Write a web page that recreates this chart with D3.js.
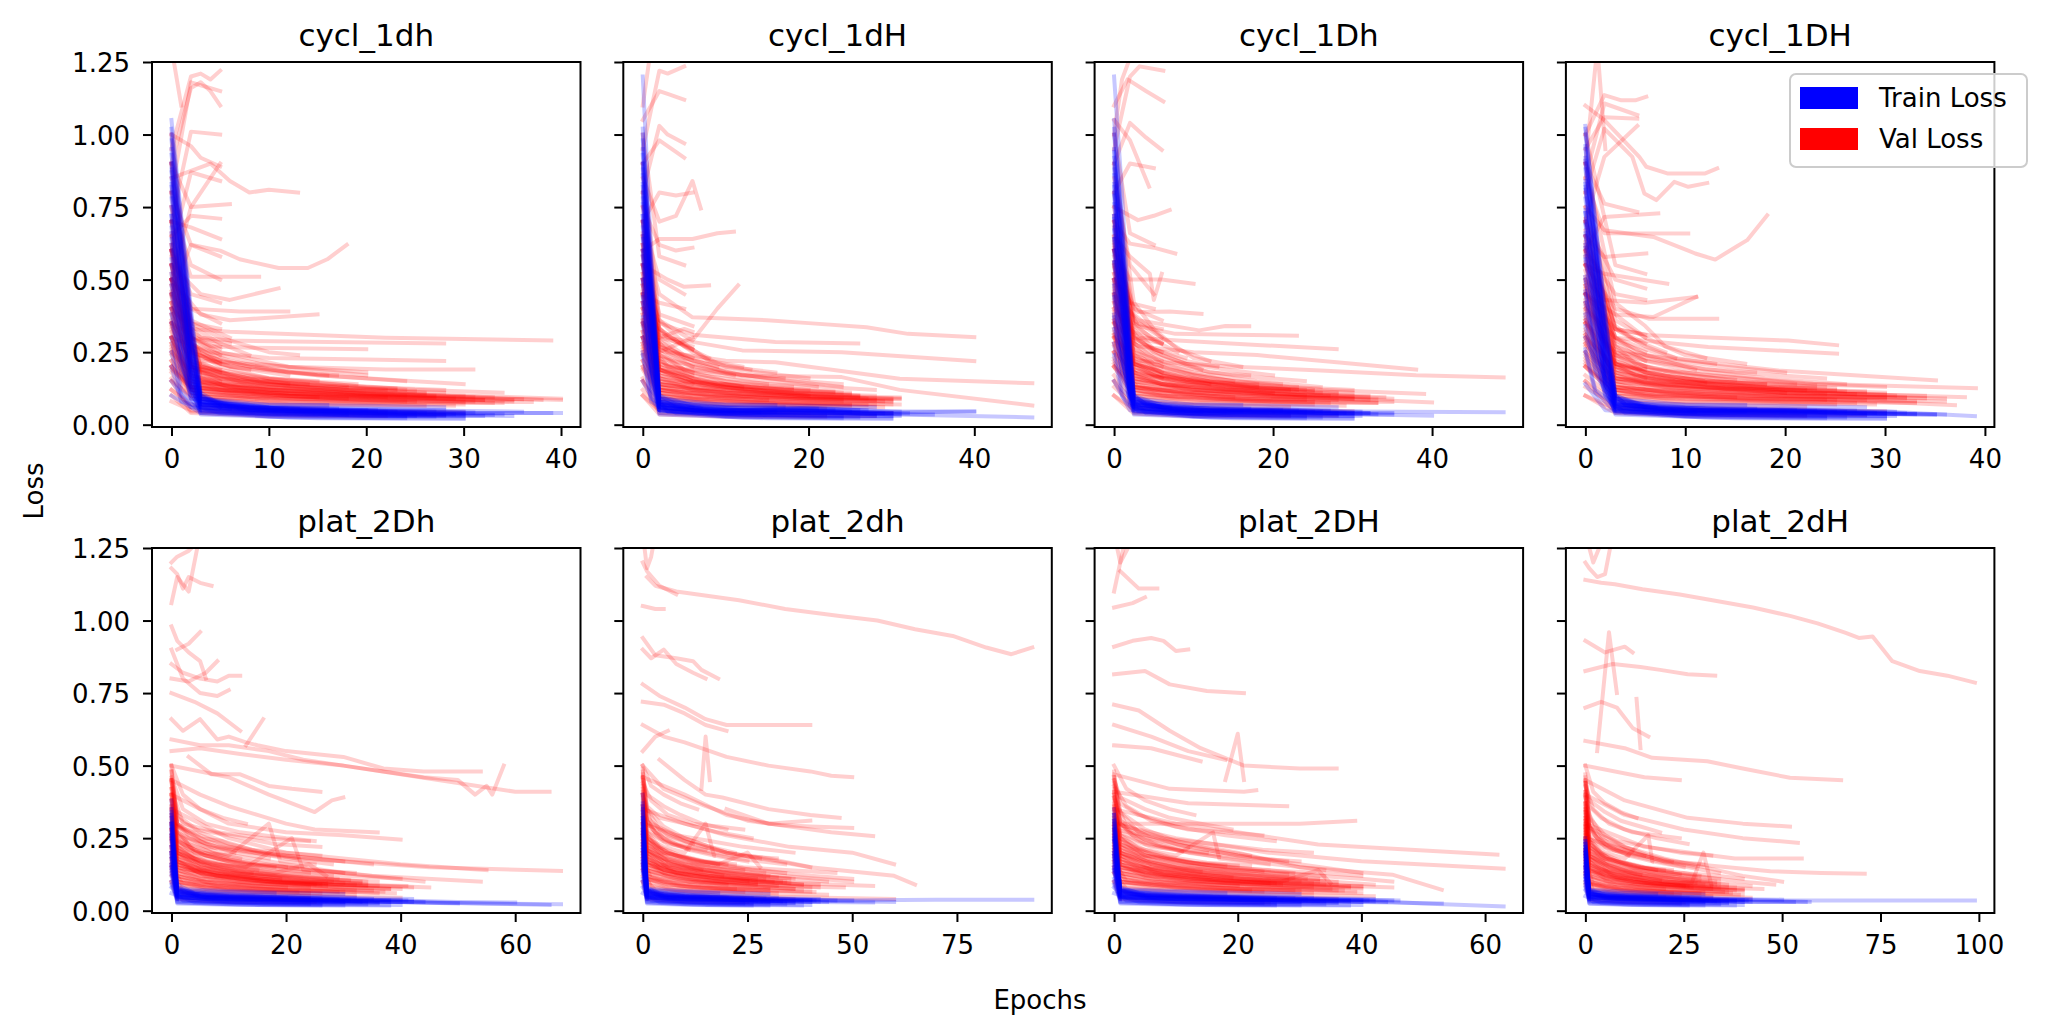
<!DOCTYPE html>
<html>
<head>
<meta charset="utf-8">
<script src="https://cdn.jsdelivr.net/npm/d3@7"></script>
<style>
body { margin: 0; background: #fff; }
text { font-family: "DejaVu Sans", sans-serif; }
</style>
</head>
<body>
<script>
var w = 2046;
var h = 1036;

var titles = ["cycl_1dh", "cycl_1dH", "cycl_1Dh", "cycl_1DH", "plat_2Dh", "plat_2dh", "plat_2DH", "plat_2dH"];
var maxEpochs = [40, 47, 49, 39, 68, 93, 63, 99];
var xTicks = [[0,10,20,30,40], [0,20,40], [0,20,40], [0,10,20,30,40],
              [0,20,40,60], [0,25,50,75], [0,20,40,60], [0,25,50,75,100]];
var yTicks = [0, 0.25, 0.5, 0.75, 1.0, 1.25];

// each run is a flat list of epoch, loss pairs
var val_c1dh = [
  [0,1.3,1,1.1],
  [0,0.95,2,1.2,3,1.21,4,1.19,5,1.22],
  [0,0.8,2,1.18,3,1.17,5,1.15],
  [0,0.9,2,1.16,3,1.18,4,1.15,5,1.1],
  [0,0.7,2,1.01,5,1.0],
  [0,1.0,2,0.96,3,0.92,5,0.89],
  [0,0.6,2,0.87,5,0.84],
  [0,0.85,4,0.9,6,0.84,8,0.8,10,0.81,13,0.8],
  [0,0.5,2,0.75,5,0.9],
  [0,0.9,2,0.75,6,0.76],
  [0,0.65,2,0.72,5,0.71],
  [0,0.8,2,0.62,5,0.6,7,0.57,11,0.54,14,0.54,16,0.57,18,0.62],
  [0,0.7,2,0.51,9,0.51],
  [0,0.55,3,0.45,6,0.43,11,0.47],
  [0,0.6,2,0.4,7,0.39,12,0.39],
  [0,0.5,3,0.38,6,0.36,15,0.38],
  [0,0.45,2,0.33,6,0.32,14,0.31,22,0.3,30,0.295,39,0.29],
  [0,0.4,3,0.3,6,0.29,16,0.285,28,0.28],
  [0,0.35,4,0.27,8,0.265,20,0.26],
  [0,0.3,4,0.25,10,0.23,20,0.225,28,0.22],
  [0,0.35,3,0.22,12,0.2,22,0.19,31,0.19],
  [0,0.75,2,0.55,5,0.5],
  [0,0.6,2,0.45,5,0.42],
  [0,0.5,2,0.4,5,0.35],
  [0,0.9,2,0.35,5,0.33],
  [0,0.55,2,0.3,6,0.28],
  [0,0.45,2,0.62,5,0.58],
  [0,0.7,2,0.68,5,0.64],
  [0,0.4,2,0.2,5,0.15,10,0.13,20,0.11,30,0.1,40,0.09],
  [0,0.3,2,0.18,5,0.14,15,0.12,25,0.1,38,0.085],
  [0,0.25,3,0.15,8,0.12,20,0.1,35,0.08],
  [0,0.6,2,0.22,5,0.18,12,0.15,25,0.12,34,0.11],
  [0,0.5,3,0.2,10,0.16,20,0.13,28,0.12],
  [0,0.35,2,0.16,6,0.12,14,0.1,24,0.09,32,0.085],
  [0,0.2,2,0.12,8,0.1,18,0.09,30,0.08],
  [0,0.8,2,0.25,6,0.2,15,0.17,25,0.15,30,0.14],
  [0,0.45,3,0.17,8,0.14,18,0.12,26,0.11],
  [0,0.3,2,0.14,10,0.11,22,0.095],
  [0,0.7,2,0.3,5,0.25,12,0.2,20,0.18],
  [0,0.15,2,0.1,10,0.08,20,0.075,30,0.07],
  [0,0.55,2,0.19,7,0.15,16,0.13,22,0.12],
  [0,0.25,2,0.13,6,0.11,12,0.1,18,0.09],
  [0,0.9,2,0.28,5,0.22,10,0.19,16,0.17],
  [0,0.38,2,0.21,5,0.17,9,0.15,14,0.14],
  [0,0.2,3,0.09,12,0.07,26,0.065],
  [0,0.65,3,0.16,10,0.12,20,0.1,27,0.095],
  [0,0.28,2,0.15,5,0.12,12,0.1,20,0.085,24,0.08],
  [0,1.0,2,0.35,5,0.3,10,0.25,13,0.24],
  [0,0.12,2,0.07,8,0.06,16,0.055],
  [0,0.5,2,0.24,6,0.2,12,0.17],
  [0,0.42,3,0.19,8,0.16,14,0.15,19,0.14],
  [0,0.33,2,0.13,10,0.1,30,0.09,36,0.088],
  [0,0.18,2,0.1,8,0.09,20,0.08,34,0.075],
  [0,0.75,2,0.27,5,0.21,8,0.19],
  [0,0.22,2,0.11,10,0.09,24,0.085,31,0.08],
  [0,0.08,2,0.05,10,0.045,22,0.04],
  [0,0.5,2,0.3,5,0.26],
  [0,0.4,2,0.26,5,0.22],
  [0,0.6,2,0.36,6,0.3],
  [0,0.28,2,0.14,5,0.12,10,0.11,16,0.1,22,0.095,29,0.09],
  [0,0.42,2,0.17,6,0.13,11,0.12,19,0.11,27,0.1,33,0.095],
  [0,0.52,2,0.2,5,0.16,9,0.14,15,0.13,23,0.12],
  [0,0.36,3,0.15,8,0.125,14,0.115,21,0.105,30,0.1],
  [0,0.24,2,0.12,7,0.1,13,0.09,20,0.085,28,0.08,37,0.078],
  [0,0.62,2,0.23,6,0.17,12,0.14,18,0.13],
  [0,0.46,3,0.18,7,0.15,13,0.13,22,0.11,26,0.105],
  [0,0.32,2,0.15,6,0.13,12,0.11,17,0.105,24,0.1],
  [0,0.2,2,0.11,8,0.095,16,0.085,25,0.08],
  [0,0.7,2,0.26,5,0.2,10,0.16,15,0.15],
  [0,0.38,2,0.16,6,0.14,14,0.12,23,0.1,31,0.095],
  [0,0.55,3,0.2,9,0.15,17,0.13,24,0.12],
  [0,0.3,2,0.13,9,0.11,18,0.1,28,0.09,35,0.085],
  [0,0.26,2,0.12,5,0.11,11,0.1,15,0.095],
  [0,0.44,2,0.19,5,0.16,8,0.15,12,0.14],
  [0,0.34,3,0.14,10,0.12,20,0.105,27,0.1],
  [0,0.16,2,0.09,9,0.075,19,0.07,29,0.065],
  [0,0.48,2,0.22,5,0.19],
  [0,0.58,2,0.25,5,0.21],
  [0,0.4,2,0.2,5,0.18],
  [0,0.66,2,0.32,5,0.27],
  [0,0.5,2,0.28,5,0.24],
  [0,0.3,2,0.17,5,0.15],
  [0,0.22,2,0.13,6,0.12,12,0.11,20,0.1,30,0.095,40,0.085],
  [0,0.12,2,0.06,10,0.05,20,0.045,30,0.042],
  [0,0.35,2,0.15,7,0.13,14,0.12,20,0.115,28,0.11],
  [0,0.45,2,0.2,6,0.16,10,0.14,18,0.12,25,0.115],
  [0,0.27,2,0.13,8,0.11,12,0.1,22,0.09,32,0.085],
  [0,0.6,2,0.21,7,0.16,13,0.14,19,0.13,23,0.125],
  [0,0.19,3,0.1,11,0.085,21,0.08,33,0.075],
  [0,0.55,2,0.3,5,0.24,9,0.21,14,0.19,20,0.17],
  [0,0.48,2,0.27,6,0.22,12,0.18,17,0.17],
  [0,0.42,3,0.24,8,0.2,15,0.17,24,0.15],
  [0,0.62,2,0.34,5,0.28,8,0.24],
  [0,0.1,2,0.04,10,0.03,22,0.03],
  [0,0.15,2,0.045,14,0.035,28,0.033]
];
var train_c1dh = [
  [0,1.05,1,0.72,2,0.4,3,0.1,5,0.07,10,0.05,20,0.045,30,0.04,39,0.04],
  [0,0.98,1,0.65,2,0.35,3,0.09,8,0.05,20,0.04,34,0.035],
  [0,0.9,1,0.6,2,0.3,3,0.08,8,0.06,20,0.05,30,0.045],
  [0,0.85,1,0.55,2,0.28,3,0.09,12,0.05,26,0.04],
  [0,0.78,1,0.5,2,0.22,3,0.07,6,0.06,15,0.05,22,0.045],
  [0,0.7,1,0.45,2,0.2,3,0.06,16,0.04,28,0.035],
  [0,0.62,1,0.35,2,0.15,3,0.06,10,0.04,18,0.035],
  [0,0.55,1,0.3,2,0.12,3,0.07,13,0.055],
  [0,0.48,1,0.25,2,0.1,3,0.07,10,0.055,24,0.05,36,0.045],
  [0,0.4,1,0.2,3,0.06,12,0.04,30,0.035],
  [0,0.3,1,0.12,3,0.05,20,0.03,32,0.03],
  [0,0.93,1,0.62,2,0.33,3,0.1,5,0.06],
  [0,0.66,1,0.4,2,0.18,3,0.08,5,0.06,14,0.05,20,0.05],
  [0,0.2,1,0.08,5,0.04,25,0.03],
  [0,0.15,2,0.06,10,0.035,24,0.03],
  [0,1.0,1,0.68,2,0.38,3,0.11,5,0.07],
  [0,0.52,1,0.28,3,0.07,6,0.055],
  [0,0.35,2,0.09,8,0.05,30,0.04,40,0.04],
  [0,0.1,3,0.04,15,0.03,27,0.028],
  [0,0.75,1,0.48,2,0.2,3,0.08,10,0.06,20,0.055,28,0.05],
  [0,0.88,1,0.58,2,0.25,3,0.09,10,0.05,18,0.048],
  [0,0.95,1,0.62,2,0.3,3,0.08,7,0.055,14,0.045,22,0.04,30,0.038],
  [0,0.83,1,0.52,2,0.24,3,0.07,9,0.05,17,0.045,25,0.04],
  [0,0.68,1,0.42,2,0.17,3,0.065,8,0.05,15,0.04,24,0.035,33,0.033],
  [0,0.57,1,0.33,2,0.13,3,0.06,10,0.045,20,0.04,29,0.036],
  [0,0.45,1,0.24,2,0.09,3,0.055,11,0.04,21,0.035,30,0.032],
  [0,1.02,1,0.7,2,0.36,3,0.1,6,0.065,12,0.055,18,0.05,27,0.045],
  [0,0.72,1,0.46,2,0.2,3,0.075,7,0.06,13,0.055,21,0.05],
  [0,0.38,1,0.18,3,0.05,9,0.04,19,0.035,35,0.03],
  [0,0.87,1,0.56,2,0.27,3,0.085,8,0.06,16,0.05,26,0.045,31,0.042],
  [0,0.6,1,0.36,2,0.14,3,0.07,12,0.05,23,0.045],
  [0,0.25,1,0.1,3,0.045,12,0.035,28,0.03],
  [0,0.8,1,0.5,2,0.22,3,0.09,6,0.07,10,0.06,17,0.055],
  [0,0.82,1,0.5,2,0.2,3,0.05,10,0.028,20,0.025,30,0.024],
  [0,0.64,1,0.38,2,0.12,3,0.04,12,0.025,24,0.022],
  [0,0.9,1,0.6,2,0.28,3,0.09,10,0.068,20,0.065,28,0.06],
  [0,0.5,1,0.26,3,0.035,15,0.022,30,0.02],
  [0,0.72,1,0.44,2,0.16,3,0.075,8,0.07,16,0.068]
];

var val_c1dH = [
  [0,1.1,1,1.3],
  [0,0.95,2,1.22,3,1.21,5,1.235],
  [0,1.05,2,1.15,3,1.14,5,1.12],
  [0,0.8,2,1.03,3,1.0,5,0.97],
  [0,0.9,2,0.98,4,0.94,5,0.92],
  [0,0.7,2,0.8,4,0.79,6,0.8],
  [0,0.85,2,0.7,4,0.72,6,0.84,7,0.745],
  [0,0.6,2,0.64,6,0.64,9,0.66,11,0.665],
  [0,0.75,2,0.62,4,0.6,6,0.61],
  [0,0.55,3,0.5,5,0.475,8,0.48],
  [0,0.5,2,0.36,6,0.29,9,0.4,11.5,0.48],
  [0,0.65,2,0.45,6,0.37,15,0.36,20,0.35,27,0.336,32,0.313,40,0.302],
  [0,0.45,2,0.35,6,0.31,16,0.285,26,0.28],
  [0,0.4,3,0.3,12,0.256,24,0.25,40,0.219],
  [0,0.35,3,0.25,10,0.22,16,0.215,31,0.158,47,0.143],
  [0,0.3,3,0.2,12,0.17,24,0.164,31,0.12,47,0.066],
  [0,0.45,2,0.42,5,0.4],
  [0,0.7,2,0.5,5,0.45],
  [0,0.55,2,0.3,5,0.33,6,0.32],
  [0,1.0,2,0.58,5,0.55],
  [0,0.5,2,0.25,6,0.3],
  [0,0.4,2,0.2,6,0.15,12,0.12,20,0.1,31,0.094],
  [0,0.35,2,0.16,6,0.13,15,0.11,26,0.1],
  [0,0.6,2,0.28,6,0.22,10,0.18,18,0.15,24,0.13],
  [0,0.3,2,0.13,8,0.1,16,0.09,30,0.08],
  [0,0.5,2,0.24,5,0.19,12,0.16,22,0.13,28,0.12],
  [0,0.25,2,0.11,6,0.09,20,0.075,30,0.07],
  [0,0.8,2,0.33,6,0.25,10,0.2,16,0.18],
  [0,0.45,2,0.19,6,0.15,14,0.13,20,0.12],
  [0,0.2,2,0.09,10,0.07,25,0.065],
  [0,0.7,2,0.3,5,0.24,9,0.21,13,0.19],
  [0,0.38,2,0.17,8,0.13,18,0.11,26,0.1],
  [0,0.55,2,0.22,7,0.17,15,0.14,21,0.13],
  [0,0.15,2,0.07,12,0.06,22,0.055],
  [0,0.9,2,0.36,5,0.28,8,0.22,12,0.2],
  [0,0.32,2,0.14,10,0.11,20,0.09,28,0.085],
  [0,0.42,2,0.21,6,0.17,12,0.14,18,0.13],
  [0,0.28,2,0.12,6,0.1,14,0.085,24,0.08],
  [0,0.65,2,0.26,6,0.2,11,0.17],
  [0,0.48,2,0.18,9,0.14,17,0.12,25,0.11],
  [0,0.22,2,0.1,8,0.08,18,0.07,27,0.068],
  [0,0.75,2,0.32,6,0.26],
  [0,0.58,2,0.27,5,0.23,9,0.2],
  [0,0.36,2,0.15,12,0.12,20,0.1],
  [0,0.1,2,0.05,12,0.045,20,0.04],
  [0,0.62,2,0.38,6,0.34],
  [0,0.52,2,0.3,6,0.27],
  [0,0.28,2,0.13,5,0.11,10,0.1,16,0.09,22,0.085,29,0.08],
  [0,0.42,2,0.16,6,0.12,11,0.11,19,0.1,27,0.09,31,0.088],
  [0,0.52,2,0.19,5,0.15,9,0.13,15,0.12,23,0.11],
  [0,0.36,2,0.14,8,0.115,14,0.105,21,0.095,30,0.09],
  [0,0.24,2,0.11,7,0.09,13,0.08,20,0.075,28,0.07],
  [0,0.62,2,0.22,6,0.16,12,0.13,18,0.12],
  [0,0.46,2,0.17,7,0.14,13,0.12,22,0.1,26,0.095],
  [0,0.32,2,0.14,6,0.12,12,0.1,17,0.095,24,0.09],
  [0,0.2,2,0.1,8,0.085,16,0.075,25,0.07],
  [0,0.7,2,0.25,5,0.19,10,0.15,15,0.14],
  [0,0.38,2,0.15,6,0.13,14,0.11,23,0.095,31,0.09],
  [0,0.55,2,0.19,9,0.14,17,0.12,24,0.11],
  [0,0.3,2,0.12,9,0.1,18,0.09,28,0.085],
  [0,0.26,2,0.11,5,0.1,11,0.09,15,0.085],
  [0,0.44,2,0.18,5,0.15,8,0.14,12,0.13],
  [0,0.34,2,0.13,10,0.11,20,0.095,27,0.09],
  [0,0.16,2,0.08,9,0.07,19,0.065,29,0.06],
  [0,0.48,2,0.21,6,0.18],
  [0,0.58,2,0.24,6,0.2],
  [0,0.4,2,0.19,6,0.17],
  [0,0.66,2,0.31,6,0.26],
  [0,0.5,2,0.27,6,0.23],
  [0,0.3,2,0.16,6,0.14],
  [0,0.22,2,0.12,6,0.11,12,0.1,20,0.09,30,0.085],
  [0,0.12,2,0.055,10,0.045,20,0.042,30,0.04],
  [0,0.35,2,0.14,7,0.12,14,0.11,20,0.105,28,0.1],
  [0,0.45,2,0.19,6,0.15,10,0.13,18,0.11,25,0.105],
  [0,0.27,2,0.12,8,0.1,12,0.095,22,0.085,30,0.08],
  [0,0.6,2,0.2,7,0.15,13,0.13,19,0.12,23,0.115],
  [0,0.19,2,0.09,11,0.08,21,0.075,31,0.07],
  [0,0.55,2,0.29,5,0.23,9,0.2,14,0.18,20,0.16],
  [0,0.48,2,0.26,6,0.21,12,0.17,17,0.16],
  [0,0.42,2,0.23,8,0.19,15,0.16,24,0.14],
  [0,0.62,2,0.33,5,0.27,8,0.23],
  [0,0.1,2,0.035,10,0.028,22,0.028],
  [0,0.15,2,0.04,14,0.032,28,0.03]
];
var train_c1dH = [
  [0,1.02,1,0.55,2,0.08,5,0.06,10,0.05,19,0.055,30,0.045,40,0.045],
  [0,0.95,1,0.5,2,0.07,8,0.05,20,0.05,32,0.04],
  [0,0.88,1,0.45,2,0.075,6,0.05,18,0.05,26,0.04],
  [0,0.8,1,0.4,2,0.06,10,0.04,20,0.045,28,0.035],
  [0,0.72,1,0.35,2,0.07,6,0.05,14,0.045],
  [0,0.65,1,0.3,2,0.06,12,0.04,22,0.04,47,0.025],
  [0,0.58,1,0.25,2,0.05,10,0.035,20,0.035,30,0.03],
  [0,0.5,1,0.2,2,0.06,8,0.045,16,0.045],
  [0,0.42,1,0.16,2,0.05,12,0.035,24,0.03],
  [0,0.35,1,0.12,3,0.045,15,0.035,22,0.035],
  [0,0.25,1,0.09,4,0.04,20,0.03,31,0.03],
  [0,0.9,1,0.48,2,0.09,4,0.06,7,0.055],
  [0,0.6,1,0.28,2,0.065,5,0.05,11,0.045],
  [0,0.15,2,0.05,10,0.03,26,0.025],
  [0,0.76,1,0.38,2,0.08,5,0.06,12,0.05,20,0.058,26,0.05],
  [0,0.98,1,0.52,2,0.1,4,0.07,6,0.06],
  [0,0.45,1,0.2,2,0.06,10,0.04,25,0.04,40,0.045],
  [0,0.3,2,0.06,10,0.04,18,0.045,30,0.04],
  [0,1.2,1,0.6,2,0.1],
  [0,0.93,1,0.5,2,0.08,7,0.055,14,0.045,22,0.045,30,0.04],
  [0,0.83,1,0.44,2,0.07,9,0.05,17,0.05,25,0.045],
  [0,0.68,1,0.34,2,0.065,8,0.05,15,0.045,24,0.04,31,0.035],
  [0,0.55,1,0.26,2,0.06,10,0.045,20,0.05,29,0.04],
  [0,0.44,1,0.19,2,0.055,11,0.04,21,0.04,30,0.035],
  [0,1.0,1,0.56,2,0.1,6,0.065,12,0.055,18,0.058,27,0.05],
  [0,0.7,1,0.36,2,0.075,7,0.06,13,0.055,21,0.055],
  [0,0.37,1,0.14,2,0.05,9,0.04,19,0.04,35,0.035],
  [0,0.86,1,0.46,2,0.085,8,0.06,16,0.055,26,0.05,31,0.045],
  [0,0.6,1,0.3,2,0.07,12,0.05,23,0.05],
  [0,0.24,1,0.08,3,0.045,12,0.035,28,0.03],
  [0,0.78,1,0.42,2,0.09,6,0.07,10,0.06,17,0.06],
  [0,0.82,1,0.4,2,0.05,10,0.028,20,0.025,30,0.024],
  [0,0.64,1,0.3,2,0.04,12,0.025,24,0.022],
  [0,0.9,1,0.46,2,0.09,10,0.068,20,0.065,28,0.06],
  [0,0.5,1,0.2,2,0.035,15,0.022,30,0.02],
  [0,0.72,1,0.36,2,0.075,8,0.07,16,0.068]
];

var val_c1Dh = [
  [0,1.0,1,1.19,2.5,1.3],
  [0,0.95,2,1.2,3.2,1.235,6.2,1.22],
  [0,1.1,1.7,1.19,4,1.15,6.2,1.114],
  [0,0.9,2,1.04,4,0.99,6,0.947],
  [0,1.05,2,0.98,4.4,0.82],
  [0,0.8,2,0.9,5,0.884],
  [0,0.75,3,0.705,5,0.72,7,0.74],
  [0,0.7,2,0.624,5,0.61,7.7,0.59],
  [0,0.6,2,0.5,6,0.5,10,0.486],
  [0,0.65,2,0.58,4.5,0.52,5,0.43,6,0.52],
  [0,0.5,3,0.388,7,0.39,11,0.382],
  [0,0.45,3,0.36,10.7,0.325,14,0.34,17,0.339],
  [0,0.5,3,0.34,7.7,0.313,15,0.31,23,0.307],
  [0,0.4,3,0.3,8,0.29,18,0.275,28,0.26],
  [0,0.35,3,0.27,10,0.25,18,0.24,28,0.215,38,0.19],
  [0,0.3,3,0.22,15,0.2,26,0.187,38,0.17,49,0.163],
  [0,0.25,3,0.17,15,0.14,26,0.12,39,0.106],
  [0,0.2,3,0.13,15,0.1,28,0.09,40,0.077],
  [0,0.85,2,0.55,5,0.45],
  [0,0.6,2,0.42,5,0.4],
  [0,1.0,2,0.66,5,0.62],
  [0,0.55,2.5,0.3,6,0.28],
  [0,0.7,2.5,0.35,6,0.33],
  [0,0.45,2.5,0.22,6,0.17,12,0.14,20,0.12,30,0.11],
  [0,0.35,2.5,0.17,6,0.14,15,0.12,24,0.1,32,0.095],
  [0,0.6,2.5,0.28,6,0.21,10,0.18,18,0.15,26,0.13],
  [0,0.3,2.5,0.14,8,0.11,16,0.09,28,0.085],
  [0,0.5,2.5,0.25,5,0.2,12,0.16,22,0.13,30,0.12],
  [0,0.25,2.5,0.12,6,0.1,20,0.08,33,0.075],
  [0,0.8,2.5,0.38,6,0.3,10,0.23,16,0.2],
  [0,0.42,2.5,0.2,6,0.16,14,0.13,22,0.12],
  [0,0.2,2.5,0.1,10,0.08,25,0.07],
  [0,0.7,2.5,0.33,5,0.26,9,0.22,13,0.2],
  [0,0.38,2.5,0.18,8,0.14,18,0.12,28,0.105],
  [0,0.55,2.5,0.24,7,0.19,15,0.15,21,0.14],
  [0,0.15,2.5,0.08,12,0.065,22,0.06],
  [0,0.9,2.5,0.42,5,0.33,8,0.26,12,0.22],
  [0,0.32,2.5,0.15,10,0.12,20,0.1,30,0.09],
  [0,0.4,2.5,0.21,6,0.18,12,0.15,18,0.14],
  [0,0.28,2.5,0.13,6,0.11,14,0.09,24,0.085],
  [0,0.65,2.5,0.3,6,0.24,11,0.19],
  [0,0.48,2.5,0.19,9,0.15,17,0.13,25,0.115],
  [0,0.22,2.5,0.11,8,0.09,18,0.08,27,0.075],
  [0,0.75,2.5,0.36,6,0.3],
  [0,0.58,2.5,0.3,5,0.26,9,0.23],
  [0,0.36,2.5,0.16,12,0.13,20,0.11],
  [0,0.1,2.5,0.055,12,0.05,20,0.045],
  [0,0.62,2.5,0.4,6,0.36],
  [0,0.52,2.5,0.32,6,0.28],
  [0,0.3,2.5,0.14,5,0.12,10,0.11,16,0.1,22,0.095,30,0.09],
  [0,0.44,2.5,0.18,6,0.14,11,0.12,19,0.11,27,0.1,34,0.095],
  [0,0.54,2.5,0.21,5,0.17,9,0.15,15,0.13,23,0.12],
  [0,0.37,2.5,0.16,8,0.13,14,0.115,21,0.105,30,0.1],
  [0,0.25,2.5,0.12,7,0.1,13,0.09,20,0.085,28,0.08,35,0.078],
  [0,0.64,2.5,0.24,6,0.18,12,0.15,18,0.13],
  [0,0.47,2.5,0.19,7,0.15,13,0.13,22,0.115,26,0.11],
  [0,0.33,2.5,0.15,6,0.13,12,0.115,17,0.11,24,0.1],
  [0,0.21,2.5,0.11,8,0.095,16,0.085,25,0.08],
  [0,0.72,2.5,0.27,5,0.21,10,0.17,15,0.15],
  [0,0.39,2.5,0.17,6,0.14,14,0.12,23,0.105,32,0.1],
  [0,0.56,2.5,0.21,9,0.16,17,0.13,24,0.12],
  [0,0.31,2.5,0.13,9,0.11,18,0.1,28,0.09,33,0.088],
  [0,0.27,2.5,0.12,5,0.11,11,0.1,15,0.095],
  [0,0.45,2.5,0.2,5,0.17,8,0.15,12,0.14],
  [0,0.35,2.5,0.15,10,0.12,20,0.105,27,0.1],
  [0,0.17,2.5,0.09,9,0.075,19,0.07,29,0.065],
  [0,0.5,2.5,0.23,6,0.2],
  [0,0.6,2.5,0.26,6,0.22],
  [0,0.42,2.5,0.21,6,0.18],
  [0,0.68,2.5,0.34,6,0.28],
  [0,0.52,2.5,0.29,6,0.25],
  [0,0.31,2.5,0.18,6,0.16],
  [0,0.23,2.5,0.13,6,0.12,12,0.11,20,0.1,30,0.095,35,0.09],
  [0,0.13,2.5,0.065,10,0.055,20,0.05,30,0.046],
  [0,0.36,2.5,0.16,7,0.135,14,0.12,20,0.115,28,0.11],
  [0,0.46,2.5,0.21,6,0.17,10,0.15,18,0.13,25,0.12],
  [0,0.28,2.5,0.13,8,0.11,12,0.1,22,0.09,32,0.085],
  [0,0.61,2.5,0.22,7,0.17,13,0.145,19,0.135,23,0.13],
  [0,0.2,2.5,0.1,11,0.085,21,0.08,33,0.075],
  [0,0.56,2.5,0.31,5,0.25,9,0.21,14,0.19,20,0.17],
  [0,0.49,2.5,0.28,6,0.23,12,0.18,17,0.17],
  [0,0.43,2.5,0.25,8,0.2,15,0.17,24,0.15],
  [0,0.63,2.5,0.35,5,0.29,8,0.25],
  [0,0.1,2.5,0.038,10,0.03,22,0.03],
  [0,0.15,2.5,0.045,14,0.035,28,0.032]
];
var train_c1Dh = [
  [0,1.2,1,0.8,2,0.3,2.5,0.09,6,0.06,12,0.05,20,0.05,30,0.045,49,0.043],
  [0,1.05,1,0.7,2,0.25,2.5,0.08,8,0.05,20,0.045,32,0.04],
  [0,0.95,1,0.62,2,0.22,2.5,0.085,6,0.06,18,0.05,26,0.045],
  [0,0.88,1,0.55,2,0.18,2.5,0.07,10,0.045,20,0.045,28,0.04],
  [0,0.8,1,0.5,2,0.15,2.5,0.075,6,0.055,14,0.05],
  [0,0.72,1,0.44,2,0.12,2.5,0.06,12,0.04,22,0.04,40,0.031],
  [0,0.64,1,0.38,2,0.1,2.5,0.055,10,0.035,20,0.035,30,0.03],
  [0,0.56,1,0.32,2,0.09,2.5,0.06,8,0.045,16,0.045],
  [0,0.48,1,0.26,2,0.07,3,0.05,12,0.035,24,0.03],
  [0,0.38,1,0.18,3,0.045,15,0.035,22,0.035],
  [0,0.28,1,0.12,4,0.04,20,0.03,31,0.03],
  [0,0.92,1,0.6,2,0.24,2.5,0.1,4,0.07,7,0.06],
  [0,0.6,1,0.35,2,0.11,2.5,0.065,5,0.05,11,0.045],
  [0,0.15,2,0.05,10,0.03,26,0.025],
  [0,0.76,1,0.47,2,0.14,2.5,0.08,5,0.06,12,0.05,20,0.055,32,0.04],
  [0,1.0,1,0.66,2,0.26,2.5,0.1,4,0.07,6,0.06],
  [0,0.44,1,0.22,2.5,0.06,10,0.04,25,0.04,35,0.04],
  [0,0.33,2.5,0.06,10,0.04,18,0.045,30,0.04],
  [0,0.68,1,0.4,2,0.12,2.5,0.07,10,0.05,24,0.045],
  [0,0.94,1,0.61,2,0.25,2.5,0.08,7,0.055,14,0.045,22,0.042,30,0.04],
  [0,0.83,1,0.52,2,0.19,2.5,0.07,9,0.05,17,0.048,25,0.045],
  [0,0.67,1,0.41,2,0.13,2.5,0.065,8,0.05,15,0.045,24,0.04,33,0.036],
  [0,0.56,1,0.33,2,0.1,2.5,0.06,10,0.045,20,0.045,29,0.04],
  [0,0.45,1,0.24,2,0.075,2.5,0.055,11,0.04,21,0.038,30,0.035],
  [0,1.02,1,0.68,2,0.28,2.5,0.1,6,0.065,12,0.055,18,0.052,27,0.048],
  [0,0.71,1,0.44,2,0.15,2.5,0.075,7,0.06,13,0.055,21,0.05],
  [0,0.37,1,0.17,2.5,0.05,9,0.04,19,0.038,35,0.035],
  [0,0.86,1,0.55,2,0.2,2.5,0.085,8,0.06,16,0.052,26,0.048,31,0.045],
  [0,0.6,1,0.36,2,0.11,2.5,0.07,12,0.05,23,0.048],
  [0,0.24,1,0.1,2.5,0.045,12,0.035,28,0.032],
  [0,0.79,1,0.5,2,0.17,2.5,0.09,6,0.07,10,0.06,17,0.055],
  [0,0.82,1,0.5,2,0.16,2.5,0.05,10,0.028,20,0.025,30,0.024],
  [0,0.64,1,0.38,2,0.1,2.5,0.04,12,0.025,24,0.022],
  [0,0.9,1,0.58,2,0.22,2.5,0.09,10,0.068,20,0.065,28,0.06],
  [0,0.5,1,0.26,2.5,0.035,15,0.022,30,0.02],
  [0,0.72,1,0.44,2,0.14,2.5,0.075,8,0.07,16,0.068]
];

var val_c1DH = [
  [0,0.9,1.2,1.3,2,0.95],
  [0,1.0,1.9,1.136,3.6,1.118,5,1.118,6.1,1.13],
  [0,0.85,1.9,1.107,5.2,1.067],
  [0,0.95,1.9,1.06,5.2,1.055],
  [0,1.1,1.9,1.05,5.4,0.923,6.1,0.889,8.2,0.866,12,0.866,13.2,0.883],
  [0,0.8,1.9,1.02,4.7,0.923,5.9,0.797,7.1,0.774,8.9,0.837,10.3,0.82,12.2,0.833],
  [0,0.7,1.9,0.923,5.2,1.03],
  [0,0.9,1.9,0.762,5.2,0.733],
  [0,0.6,1.9,0.716,7.3,0.728],
  [0,0.75,1.9,0.67,6.8,0.647,10.3,0.6,11,0.59,13,0.569,15.1,0.613,16.2,0.636,18.2,0.722],
  [0,0.85,1.9,0.66,10.3,0.659],
  [0,0.65,1.9,0.578,6.1,0.59],
  [0,0.55,1.9,0.52,8.2,0.486],
  [0,0.5,1.9,0.43,6,0.42,11.1,0.44],
  [0,0.45,3,0.38,6.8,0.371,11.1,0.44],
  [0,0.55,3,0.4,6.4,0.365,13.2,0.365],
  [0,0.45,3,0.33,6.4,0.308,20.3,0.29,25.2,0.274],
  [0,0.4,3,0.3,12.3,0.268,25.2,0.245],
  [0,0.35,3,0.25,19.3,0.187,35.1,0.153],
  [0,0.3,3,0.2,22.8,0.141,39.1,0.126],
  [0,0.25,3,0.16,26,0.107,38,0.095],
  [0,0.2,3,0.12,26,0.084,37,0.067],
  [0,0.7,3,0.5,6,0.47],
  [0,1.0,3,0.55,6,0.52],
  [0,0.6,3,0.45,6,0.43],
  [0,0.65,3,0.33,6,0.31],
  [0,0.45,3,0.22,6,0.18,12,0.15,20,0.12,30,0.11],
  [0,0.35,3,0.17,6,0.14,15,0.12,24,0.1,32,0.095],
  [0,0.6,3,0.28,6,0.22,10,0.19,18,0.16,26,0.14],
  [0,0.3,3,0.14,8,0.11,16,0.09,28,0.085],
  [0,0.5,3,0.25,6,0.2,12,0.17,22,0.14,30,0.13],
  [0,0.25,3,0.12,6,0.1,20,0.08,33,0.075],
  [0,0.8,3,0.38,6,0.3,10,0.24,16,0.21],
  [0,0.42,3,0.2,6,0.16,14,0.13,22,0.12],
  [0,0.2,3,0.1,10,0.08,25,0.07],
  [0,0.7,3,0.33,6,0.27,9,0.23,13,0.21],
  [0,0.38,3,0.18,8,0.14,18,0.12,28,0.11],
  [0,0.55,3,0.24,7,0.19,15,0.15,21,0.14],
  [0,0.15,3,0.08,12,0.065,22,0.06],
  [0,0.9,3,0.42,6,0.34,8,0.27,12,0.23],
  [0,0.32,3,0.15,10,0.12,20,0.1,30,0.09],
  [0,0.4,3,0.21,6,0.18,12,0.15,18,0.14],
  [0,0.28,3,0.13,6,0.11,14,0.09,24,0.085],
  [0,0.65,3,0.3,6,0.24,11,0.19],
  [0,0.48,3,0.19,9,0.15,17,0.13,25,0.12],
  [0,0.22,3,0.11,8,0.09,18,0.08,27,0.075],
  [0,0.75,3,0.36,6,0.3],
  [0,0.58,3,0.3,6,0.26,9,0.23],
  [0,0.36,3,0.16,12,0.13,20,0.11],
  [0,0.1,3,0.055,12,0.05,20,0.045],
  [0,0.29,3,0.14,5,0.125,10,0.115,16,0.105,22,0.1,30,0.095],
  [0,0.43,3,0.18,6,0.145,11,0.13,19,0.115,27,0.105,34,0.1],
  [0,0.53,3,0.21,5,0.17,9,0.15,15,0.135,23,0.125],
  [0,0.37,3,0.16,8,0.13,14,0.12,21,0.11,30,0.105],
  [0,0.24,3,0.12,7,0.1,13,0.095,20,0.09,28,0.085,36,0.08],
  [0,0.63,3,0.24,6,0.18,12,0.15,18,0.14],
  [0,0.47,3,0.19,7,0.155,13,0.135,22,0.12,26,0.115],
  [0,0.33,3,0.15,6,0.13,12,0.12,17,0.11,24,0.105],
  [0,0.21,3,0.11,8,0.1,16,0.09,25,0.085],
  [0,0.71,3,0.27,5,0.21,10,0.17,15,0.155],
  [0,0.39,3,0.17,6,0.145,14,0.125,23,0.11,31,0.1],
  [0,0.56,3,0.21,9,0.16,17,0.14,24,0.13],
  [0,0.31,3,0.13,9,0.11,18,0.1,28,0.095,34,0.09],
  [0,0.27,3,0.12,5,0.11,11,0.1,15,0.095],
  [0,0.45,3,0.2,5,0.17,8,0.155,12,0.145],
  [0,0.35,3,0.15,10,0.125,20,0.11,27,0.105],
  [0,0.17,3,0.09,9,0.08,19,0.075,29,0.07],
  [0,0.49,3,0.23,6,0.2],
  [0,0.59,3,0.26,6,0.22],
  [0,0.41,3,0.21,6,0.19],
  [0,0.67,3,0.33,6,0.28],
  [0,0.51,3,0.29,6,0.25],
  [0,0.31,3,0.18,6,0.16],
  [0,0.23,3,0.13,6,0.12,12,0.11,20,0.1,30,0.095,36,0.09],
  [0,0.13,3,0.065,10,0.055,20,0.05,30,0.046],
  [0,0.36,3,0.16,7,0.14,14,0.125,20,0.12,28,0.115],
  [0,0.46,3,0.21,6,0.17,10,0.15,18,0.13,25,0.125],
  [0,0.28,3,0.13,8,0.115,12,0.105,22,0.095,32,0.09],
  [0,0.61,3,0.22,7,0.17,13,0.15,19,0.14,23,0.135],
  [0,0.2,3,0.1,11,0.09,21,0.085,33,0.08],
  [0,0.55,3,0.3,5,0.25,9,0.22,14,0.2,20,0.18],
  [0,0.48,3,0.27,6,0.23,12,0.19,17,0.18],
  [0,0.42,3,0.24,8,0.21,15,0.18,24,0.16],
  [0,0.62,3,0.34,5,0.29,8,0.25],
  [0,0.1,3,0.04,10,0.032,22,0.03],
  [0,0.15,3,0.046,14,0.036,28,0.033]
];
var train_c1DH = [
  [0,1.02,1,0.7,2,0.38,3,0.1,6,0.06,12,0.05,20,0.05,30,0.045,39,0.029],
  [0,0.96,1,0.64,2,0.34,3,0.09,8,0.05,20,0.045,33,0.038],
  [0,0.9,1,0.6,2,0.3,3,0.085,6,0.06,18,0.05,26,0.045],
  [0,0.82,1,0.54,2,0.26,3,0.07,10,0.045,20,0.045,28,0.04],
  [0,0.74,1,0.48,2,0.22,3,0.075,6,0.055,14,0.05],
  [0,0.66,1,0.42,2,0.18,3,0.06,12,0.04,22,0.04,35,0.035],
  [0,0.58,1,0.36,2,0.14,3,0.055,10,0.035,20,0.035,30,0.03],
  [0,0.5,1,0.3,2,0.12,3,0.06,8,0.045,16,0.045],
  [0,0.42,1,0.24,2,0.1,3,0.05,12,0.035,24,0.03],
  [0,0.34,1,0.18,3,0.045,15,0.035,22,0.035],
  [0,0.26,1,0.12,4,0.04,20,0.03,31,0.03],
  [0,0.92,1,0.62,2,0.32,3,0.1,4,0.07,7,0.06],
  [0,0.62,1,0.38,2,0.16,3,0.065,5,0.05,11,0.045],
  [0,0.14,2,0.05,10,0.03,26,0.025],
  [0,0.78,1,0.5,2,0.24,3,0.08,5,0.06,12,0.05,20,0.055,32,0.04],
  [0,1.0,1,0.67,2,0.36,3,0.1,4,0.07,6,0.06],
  [0,0.46,1,0.26,3,0.06,10,0.04,25,0.04,36,0.035],
  [0,0.3,3,0.06,10,0.04,18,0.045,30,0.04],
  [0,0.7,1,0.45,2,0.2,3,0.07,10,0.05,24,0.045],
  [0,0.95,1,0.63,2,0.31,3,0.08,7,0.055,14,0.048,22,0.045,30,0.042],
  [0,0.84,1,0.55,2,0.25,3,0.07,9,0.05,17,0.05,25,0.045],
  [0,0.69,1,0.44,2,0.19,3,0.065,8,0.05,15,0.045,24,0.04,33,0.036],
  [0,0.57,1,0.34,2,0.14,3,0.06,10,0.045,20,0.045,29,0.04],
  [0,0.45,1,0.25,2,0.1,3,0.055,11,0.04,21,0.038,30,0.035],
  [0,1.03,1,0.7,2,0.37,3,0.1,6,0.065,12,0.055,18,0.052,27,0.048],
  [0,0.73,1,0.47,2,0.21,3,0.075,7,0.06,13,0.055,21,0.05],
  [0,0.38,1,0.19,3,0.05,9,0.04,19,0.038,35,0.035],
  [0,0.88,1,0.58,2,0.28,3,0.085,8,0.06,16,0.052,26,0.048,31,0.045],
  [0,0.61,1,0.37,2,0.15,3,0.07,12,0.05,23,0.048],
  [0,0.25,1,0.11,3,0.045,12,0.035,28,0.032],
  [0,0.81,1,0.52,2,0.23,3,0.09,6,0.07,10,0.06,17,0.055],
  [0,0.83,1,0.52,2,0.21,3,0.05,10,0.028,20,0.025,30,0.024],
  [0,0.65,1,0.39,2,0.13,3,0.04,12,0.025,24,0.022],
  [0,0.91,1,0.61,2,0.29,3,0.09,10,0.068,20,0.065,28,0.06],
  [0,0.51,1,0.27,3,0.035,15,0.022,30,0.02],
  [0,0.73,1,0.45,2,0.17,3,0.075,8,0.07,16,0.068]
];

var val_p2Dh = [
  [0,1.2,1,1.22,3,1.24,4,1.26],
  [0,1.18,1,1.16,2,1.11,3,1.15,5,1.13,7,1.12],
  [0,1.06,1,1.15,3,1.1,5,1.3],
  [0,0.98,1,0.93,3,0.89,5,0.86,6,0.8],
  [1,0.9,3,0.92,5,0.96],
  [0,0.8,3,0.79,6,0.82,8,0.86],
  [0,0.85,2,0.82,5,0.8,8,0.79,10,0.81,12,0.81],
  [0,0.66,2,0.62,5,0.66,8,0.59,10,0.6,13,0.58,15,0.57,20,0.55,25,0.54,30,0.53,37,0.49,44,0.48,54,0.48],
  [0,0.59,5,0.57,10,0.57,17,0.55,23,0.52,30,0.5,37,0.48,44,0.46,50,0.45,53,0.4,55,0.43,56,0.4,58,0.5],
  [0,0.55,5,0.56,12,0.54,20,0.52,30,0.5,40,0.47,50,0.44,60,0.41,66,0.41],
  [3,0.53,7,0.47,12,0.47,17,0.43,21,0.42,26,0.41],
  [0,0.5,10,0.46,17,0.4,25,0.34,28,0.38,30,0.39],
  [0,0.75,4,0.72,8,0.68,12,0.62],
  [13,0.57,16,0.66],
  [0,0.45,5,0.4,10,0.36,15,0.33,20,0.3,25,0.28,36,0.27],
  [0,0.4,10,0.3,20,0.27,30,0.26,40,0.245],
  [0,0.35,10,0.25,20,0.2,30,0.18,40,0.16,55,0.14],
  [0,0.3,10,0.22,20,0.19,30,0.17,45,0.15,68,0.137],
  [0,0.25,10,0.18,20,0.15,35,0.12,54,0.1],
  [0,0.28,8,0.2,20,0.16,30,0.13,44,0.1],
  [0,0.9,2,0.8,5,0.75,8,0.74,10,0.76],
  [0,0.5,1,0.3,3,0.25,8,0.22,15,0.2,25,0.18,35,0.16],
  [0,0.45,1,0.28,4,0.2,10,0.17,20,0.14,30,0.12,40,0.11],
  [0,0.4,1,0.22,5,0.16,12,0.13,22,0.11,34,0.09],
  [0,0.35,1,0.2,5,0.14,15,0.11,28,0.09,42,0.08],
  [0,0.3,1,0.17,6,0.12,16,0.1,30,0.08,38,0.075],
  [0,0.25,1,0.14,5,0.11,18,0.09,32,0.07],
  [0,0.2,1,0.12,8,0.09,20,0.075,36,0.06],
  [0,0.15,2,0.09,10,0.07,26,0.06],
  [0,0.48,1,0.32,4,0.28,10,0.26,18,0.23,26,0.22],
  [0,0.42,2,0.3,8,0.27,16,0.25,24,0.24],
  [0,0.38,1,0.26,6,0.22,14,0.2,22,0.18,30,0.17],
  [0,0.33,1,0.23,6,0.19,14,0.16,24,0.14,32,0.13],
  [0,0.28,1,0.19,6,0.15,14,0.13,24,0.11,36,0.1],
  [0,0.22,1,0.15,8,0.12,18,0.1,28,0.09,41,0.085],
  [0,0.18,1,0.11,8,0.085,20,0.07,30,0.065],
  [0,0.12,2,0.07,12,0.055,28,0.05,40,0.045],
  [0,0.46,2,0.35,6,0.3,12,0.27,20,0.25,25,0.24],
  [0,0.36,1,0.24,5,0.2,10,0.19,17,0.3,19,0.17,25,0.16],
  [0,0.3,1,0.2,7,0.16,13,0.15,21,0.25,23,0.14,30,0.13],
  [0,0.26,1,0.17,4,0.14,12,0.12,20,0.1,27,0.095],
  [0,0.2,1,0.13,6,0.1,16,0.085,24,0.08],
  [0,0.4,1,0.27,3,0.23,7,0.2,12,0.18],
  [0,0.16,1,0.1,6,0.08,14,0.07,22,0.065],
  [0,0.32,1,0.21,5,0.17,11,0.15,18,0.13,24,0.16,27,0.12],
  [0,0.24,1,0.16,5,0.13,12,0.11,20,0.1,31,0.09,45,0.08],
  [0,0.1,2,0.06,10,0.05,24,0.045],
  [0,0.44,1,0.29,5,0.25,9,0.24,14,0.21,20,0.2,26,0.19],
  [0,0.34,1,0.22,4,0.18,8,0.16,15,0.14],
  [0,0.28,1,0.18,5,0.15,10,0.13,16,0.12,25,0.11,33,0.1],
  [0,0.5,2,0.4,5,0.35,9,0.32,13,0.3],
  [0,0.3,1,0.2,5,0.15,10,0.13,16,0.12,24,0.1,32,0.09],
  [0,0.26,1,0.18,4,0.14,9,0.12,18,0.1,27,0.09,36,0.085],
  [0,0.22,1,0.15,5,0.12,12,0.1,20,0.09,30,0.08,40,0.075],
  [0,0.35,1,0.22,6,0.17,12,0.15,20,0.13,28,0.12],
  [0,0.19,1,0.12,6,0.1,14,0.085,24,0.075,35,0.07],
  [0,0.28,1,0.19,7,0.15,15,0.13,23,0.115,31,0.105],
  [0,0.42,1,0.26,4,0.21,9,0.18,15,0.16,22,0.15],
  [0,0.17,1,0.11,5,0.09,13,0.08,21,0.07,29,0.065],
  [0,0.32,1,0.21,5,0.17,11,0.14,19,0.12,26,0.11,34,0.1],
  [0,0.24,1,0.16,5,0.13,10,0.115,17,0.1,25,0.09],
  [0,0.38,1,0.24,6,0.19,12,0.16,18,0.15],
  [0,0.2,1,0.14,7,0.11,14,0.095,22,0.085,32,0.08,38,0.075],
  [0,0.14,1,0.09,6,0.075,15,0.065,24,0.06],
  [0,0.29,1,0.18,4,0.15,8,0.13,13,0.12,19,0.11],
  [0,0.23,1,0.15,8,0.12,16,0.1,26,0.09,34,0.085],
  [0,0.45,1,0.3,5,0.24,11,0.2,17,0.18],
  [0,0.27,1,0.17,6,0.14,13,0.12,21,0.105,28,0.1],
  [0,0.16,1,0.1,9,0.08,18,0.07,30,0.065,39,0.06],
  [0,0.33,1,0.2,5,0.16,9,0.14,14,0.13],
  [0,0.21,1,0.13,5,0.11,11,0.095,19,0.09,27,0.085],
  [0,0.4,1,0.25,3,0.21,8,0.18,13,0.16,20,0.15],
  [0,0.25,1,0.17,7,0.13,15,0.11,23,0.1,30,0.095],
  [0,0.18,1,0.12,4,0.1,10,0.09,20,0.08],
  [0,0.31,1,0.2,6,0.16,13,0.13,22,0.12,29,0.11],
  [0,0.13,1,0.08,8,0.065,20,0.06,32,0.055],
  [0,0.36,1,0.23,4,0.19,10,0.16,16,0.14,24,0.13],
  [0,0.22,1,0.14,6,0.12,12,0.105,20,0.095,26,0.09],
  [0,0.48,1,0.3,3,0.26,7,0.22,11,0.2],
  [0,0.15,1,0.1,5,0.085,12,0.075,25,0.07,37,0.065],
  [0,0.26,1,0.16,8,0.12,16,0.11,24,0.1,33,0.095],
  [0,0.45,1,0.33,5,0.27,10,0.23,16,0.2,22,0.18],
  [0,0.38,1,0.3,6,0.24,12,0.21,20,0.18,28,0.16],
  [0,0.1,1,0.04,10,0.03,25,0.03]
];
var train_p2Dh = [
  [0,0.38,1,0.08,5,0.05,15,0.04,30,0.035,40,0.03,55,0.025,68,0.022],
  [0,0.33,1,0.07,6,0.045,16,0.04,30,0.035,44,0.03],
  [0,0.3,1,0.065,8,0.05,20,0.045,35,0.04],
  [0,0.26,1,0.06,5,0.045,18,0.04,28,0.035,50,0.025],
  [0,0.22,1,0.06,6,0.05,12,0.045,24,0.04],
  [0,0.19,1,0.055,10,0.04,25,0.035,40,0.03,66,0.02],
  [0,0.16,1,0.05,8,0.035,22,0.03,36,0.028],
  [0,0.13,1,0.045,10,0.035,30,0.03],
  [0,0.1,1,0.04,12,0.03,26,0.025],
  [0,0.08,2,0.035,16,0.025,34,0.022],
  [0,0.35,1,0.09,4,0.06,10,0.055,22,0.05,32,0.045],
  [0,0.24,1,0.07,6,0.06,16,0.05,28,0.045,42,0.04],
  [0,0.2,1,0.065,5,0.055,14,0.05,20,0.045],
  [0,0.14,1,0.055,7,0.045,18,0.04,38,0.035],
  [0,0.28,1,0.075,3,0.06,10,0.05,30,0.04,50,0.03,60,0.028],
  [0,0.06,4,0.03,20,0.022,40,0.02],
  [0,0.18,1,0.045,10,0.04,26,0.035,41,0.035],
  [0,0.3,1,0.06,6,0.045,14,0.04,24,0.035,34,0.032],
  [0,0.27,1,0.065,5,0.05,12,0.045,22,0.04,31,0.035],
  [0,0.22,1,0.055,7,0.045,17,0.04,28,0.035,38,0.03],
  [0,0.18,1,0.05,8,0.04,19,0.035,33,0.03],
  [0,0.15,1,0.045,9,0.038,20,0.032,30,0.03],
  [0,0.34,1,0.075,4,0.06,11,0.05,21,0.045,29,0.04],
  [0,0.12,1,0.04,10,0.032,22,0.028,36,0.025],
  [0,0.25,1,0.06,6,0.05,13,0.045,25,0.04,40,0.035],
  [0,0.2,1,0.05,5,0.042,15,0.038,27,0.034],
  [0,0.09,1,0.035,10,0.028,24,0.024],
  [0,0.29,1,0.07,5,0.055,10,0.05,18,0.045,26,0.042],
  [0,0.16,1,0.048,7,0.04,16,0.036,31,0.032,42,0.03],
  [0,0.3,1,0.03,10,0.022,25,0.02,38,0.018],
  [0,0.2,1,0.028,15,0.02,30,0.018],
  [0,0.32,1,0.075,10,0.068,20,0.062,30,0.058],
  [0,0.26,1,0.07,8,0.065,18,0.06],
  [0,0.15,1,0.025,12,0.02,26,0.018]
];

var val_p2dh = [
  [0,1.3,1,1.18,2,1.22,3,1.3],
  [1,1.15,3,1.12,8,1.1,23,1.07,34,1.04,47,1.016,56,1.0,65,0.97,74,0.947,82,0.907,88,0.884,93,0.907],
  [0,1.05,3,1.04,5,1.04],
  [0,1.2,1,1.17,4,1.12,8,1.09],
  [0,0.94,3,0.88,8,0.87,12,0.86,14,0.83,18,0.8],
  [0,0.9,2,0.87,5,0.9,8,0.85,12,0.82,15,0.8],
  [0,0.78,4,0.74,10,0.7,15,0.66,20,0.64,30,0.64,40,0.64],
  [0,0.72,5,0.71,10,0.68,15,0.64,20,0.62],
  [0,0.64,5,0.6,10,0.58,20,0.53,30,0.5,40,0.48,45,0.465,50,0.46],
  [0,0.5,5,0.42,10,0.39,15,0.36,25,0.31,33,0.295,40,0.29,50,0.285],
  [4,0.52,10,0.45,15,0.4,19,0.39,30,0.35,40,0.33,47,0.32],
  [0,0.55,3,0.6,6,0.62],
  [0,0.46,10,0.4,20,0.33,30,0.3,40,0.31],
  [20,0.35,30,0.3,45,0.27,55,0.257],
  [0,0.35,10,0.3,20,0.26,35,0.22,50,0.2,60,0.16],
  [0,0.3,20,0.2,40,0.15,60,0.12,65,0.09],
  [14,0.42,15,0.6,16,0.45],
  [0,0.45,1,0.35,4,0.28,10,0.24,20,0.2,30,0.18,40,0.15],
  [0,0.42,1,0.3,5,0.24,12,0.21,22,0.18,34,0.16],
  [0,0.38,1,0.26,5,0.2,14,0.17,26,0.14,40,0.12,50,0.11],
  [0,0.35,1,0.23,6,0.17,15,0.14,28,0.12,44,0.1],
  [0,0.3,1,0.2,6,0.15,16,0.12,30,0.1,38,0.09],
  [0,0.26,1,0.17,5,0.13,18,0.1,32,0.085,48,0.08],
  [0,0.22,1,0.14,8,0.11,20,0.09,36,0.075],
  [0,0.18,2,0.11,10,0.085,26,0.07,40,0.065],
  [0,0.48,1,0.36,4,0.32,10,0.3,18,0.27,26,0.25],
  [0,0.4,2,0.3,8,0.26,16,0.24,24,0.22,36,0.2],
  [0,0.36,1,0.27,6,0.23,14,0.21,22,0.19,32,0.18],
  [0,0.32,1,0.24,6,0.2,14,0.17,24,0.15,34,0.14,46,0.13],
  [0,0.28,1,0.2,6,0.16,14,0.14,24,0.12,36,0.11],
  [0,0.24,1,0.16,8,0.13,18,0.11,28,0.1,42,0.09],
  [0,0.2,1,0.12,8,0.095,20,0.08,30,0.075],
  [0,0.14,2,0.08,12,0.065,28,0.06,44,0.055],
  [0,0.44,2,0.38,6,0.33,12,0.3,18,0.29,24,0.28],
  [0,0.34,1,0.25,5,0.22,10,0.2,15,0.3,17,0.19,25,0.17],
  [0,0.3,1,0.22,7,0.18,13,0.16,20,0.15,28,0.14,34,0.13],
  [0,0.26,1,0.19,4,0.16,12,0.14,20,0.12,27,0.11],
  [0,0.2,1,0.14,6,0.12,16,0.1,24,0.09,32,0.085],
  [0,0.4,1,0.31,3,0.27,7,0.25,12,0.23],
  [0,0.16,1,0.11,6,0.09,14,0.08,22,0.075],
  [0,0.33,1,0.24,5,0.2,11,0.18,18,0.16,25,0.2,28,0.15],
  [0,0.24,1,0.17,5,0.14,12,0.12,20,0.11,31,0.1,45,0.09,55,0.085],
  [0,0.1,2,0.06,10,0.05,24,0.045,36,0.04],
  [0,0.46,1,0.4,5,0.36,9,0.33,14,0.3,20,0.28],
  [0,0.36,1,0.28,4,0.25,8,0.23,15,0.21],
  [0,0.28,1,0.21,5,0.18,10,0.16,16,0.15,25,0.13,33,0.12,50,0.1],
  [0,0.5,2,0.43,5,0.4,9,0.37,13,0.35],
  [0,0.12,3,0.07,20,0.05,40,0.045,60,0.04],
  [0,0.31,1,0.21,5,0.16,10,0.14,16,0.13,24,0.11,33,0.1],
  [0,0.27,1,0.19,4,0.15,9,0.13,18,0.11,27,0.1,38,0.09],
  [0,0.23,1,0.16,5,0.13,12,0.11,20,0.1,30,0.09,42,0.08],
  [0,0.36,1,0.23,6,0.18,12,0.16,20,0.14,29,0.13],
  [0,0.2,1,0.13,6,0.11,14,0.095,24,0.085,36,0.075],
  [0,0.29,1,0.2,7,0.16,15,0.14,23,0.125,32,0.115],
  [0,0.43,1,0.27,4,0.22,9,0.19,15,0.17,22,0.16],
  [0,0.18,1,0.12,5,0.1,13,0.085,21,0.075,30,0.07],
  [0,0.33,1,0.22,5,0.18,11,0.15,19,0.13,26,0.12,35,0.11],
  [0,0.25,1,0.17,5,0.14,10,0.125,17,0.11,25,0.1],
  [0,0.39,1,0.25,6,0.2,12,0.17,18,0.16],
  [0,0.21,1,0.15,7,0.12,14,0.1,22,0.09,32,0.085,40,0.08],
  [0,0.15,1,0.1,6,0.08,15,0.07,24,0.065],
  [0,0.3,1,0.19,4,0.16,8,0.14,13,0.13,19,0.12],
  [0,0.24,1,0.16,8,0.13,16,0.11,26,0.1,35,0.095],
  [0,0.46,1,0.31,5,0.25,11,0.21,17,0.19],
  [0,0.28,1,0.18,6,0.15,13,0.13,21,0.115,29,0.11],
  [0,0.17,1,0.11,9,0.085,18,0.075,30,0.07,41,0.065],
  [0,0.34,1,0.21,5,0.17,9,0.15,14,0.14],
  [0,0.22,1,0.14,5,0.12,11,0.1,19,0.095,27,0.09],
  [0,0.41,1,0.26,3,0.22,8,0.19,13,0.17,20,0.16],
  [0,0.26,1,0.18,7,0.14,15,0.12,23,0.11,31,0.1],
  [0,0.19,1,0.13,4,0.11,10,0.1,20,0.09],
  [0,0.32,1,0.21,6,0.17,13,0.14,22,0.13,30,0.12],
  [0,0.14,1,0.09,8,0.07,20,0.065,32,0.06],
  [0,0.37,1,0.24,4,0.2,10,0.17,16,0.15,24,0.14],
  [0,0.23,1,0.15,6,0.13,12,0.11,20,0.1,27,0.095],
  [0,0.49,1,0.31,3,0.27,7,0.23,11,0.21],
  [0,0.16,1,0.11,5,0.09,12,0.08,25,0.075,38,0.07],
  [0,0.27,1,0.17,8,0.13,16,0.12,24,0.11,34,0.1],
  [0,0.47,1,0.35,5,0.29,10,0.25,16,0.22,22,0.2],
  [0,0.4,1,0.32,6,0.26,12,0.23,20,0.2,28,0.18],
  [0,0.1,1,0.04,10,0.032,25,0.03]
];
var train_p2dh = [
  [0,0.4,1,0.07,5,0.05,15,0.045,30,0.04,45,0.035,70,0.038,93,0.038],
  [0,0.35,1,0.065,6,0.045,16,0.04,30,0.035,44,0.03],
  [0,0.3,1,0.06,8,0.05,20,0.045,35,0.04,50,0.035],
  [0,0.27,1,0.055,5,0.045,18,0.04,28,0.035,40,0.03],
  [0,0.23,1,0.06,6,0.05,12,0.045,24,0.04],
  [0,0.2,1,0.05,10,0.04,25,0.035,40,0.03,55,0.028],
  [0,0.17,1,0.045,8,0.035,22,0.03,36,0.028],
  [0,0.14,1,0.045,10,0.035,30,0.03],
  [0,0.11,1,0.04,12,0.03,26,0.025],
  [0,0.08,2,0.035,16,0.025,34,0.022],
  [0,0.37,1,0.08,4,0.06,10,0.055,22,0.05,32,0.045],
  [0,0.25,1,0.07,6,0.06,16,0.05,28,0.045,42,0.04],
  [0,0.21,1,0.065,5,0.055,14,0.05,20,0.045],
  [0,0.15,1,0.055,7,0.045,18,0.04,38,0.035,60,0.03],
  [0,0.29,1,0.07,3,0.06,10,0.05,30,0.04,46,0.035],
  [0,0.06,4,0.03,20,0.022,40,0.02],
  [0,0.18,1,0.045,10,0.04,26,0.035,41,0.035],
  [0,0.32,1,0.06,6,0.045,14,0.04,24,0.036,34,0.033],
  [0,0.28,1,0.065,5,0.05,12,0.046,22,0.04,31,0.036],
  [0,0.23,1,0.055,7,0.046,17,0.04,28,0.036,38,0.032],
  [0,0.19,1,0.05,8,0.04,19,0.036,33,0.032],
  [0,0.16,1,0.045,9,0.038,20,0.033,30,0.03],
  [0,0.36,1,0.075,4,0.06,11,0.05,21,0.046,29,0.042],
  [0,0.13,1,0.04,10,0.032,22,0.028,36,0.026],
  [0,0.26,1,0.06,6,0.05,13,0.046,25,0.04,40,0.036],
  [0,0.21,1,0.05,5,0.043,15,0.039,27,0.035],
  [0,0.1,1,0.035,10,0.028,24,0.025],
  [0,0.31,1,0.07,5,0.056,10,0.05,18,0.046,26,0.043],
  [0,0.17,1,0.048,7,0.04,16,0.037,31,0.033,42,0.031],
  [0,0.32,1,0.03,10,0.022,25,0.02,38,0.018],
  [0,0.22,1,0.028,15,0.02,30,0.018],
  [0,0.34,1,0.075,10,0.068,20,0.062,30,0.058],
  [0,0.27,1,0.07,8,0.065,18,0.06],
  [0,0.16,1,0.025,12,0.02,26,0.018]
];

var val_p2DH = [
  [0,1.1,2,1.3],
  [0,1.3,1,1.2,3,1.28],
  [1,1.17,4,1.11,7,1.11],
  [0,1.045,3,1.06,5,1.08],
  [0,0.91,3,0.93,6,0.94,8,0.93,10,0.895,12,0.9],
  [0,0.815,5,0.826,9,0.78,15,0.757,21,0.75],
  [0,0.71,4,0.69,9,0.62,14,0.56,21,0.5,30,0.49,36,0.49],
  [0,0.64,6,0.6,12,0.55,18,0.52],
  [0,0.57,6,0.56,14,0.515],
  [0,0.47,9,0.42,21,0.41,23,0.415],
  [0,0.41,12,0.37,28,0.36],
  [0,0.3,10,0.3,20,0.3,30,0.3,39,0.31],
  [18,0.45,20,0.61,21,0.45],
  [0,0.35,10,0.3,20,0.27,33,0.228,48,0.21,62,0.193],
  [0,0.3,10,0.25,25,0.2,40,0.17,63,0.145],
  [0,0.28,20,0.2,30,0.15,45,0.124,53,0.072],
  [0,0.44,1,0.34,4,0.27,10,0.23,20,0.19,30,0.16,40,0.13],
  [0,0.4,1,0.29,5,0.23,12,0.2,22,0.17,34,0.14],
  [0,0.36,1,0.25,5,0.19,14,0.16,26,0.13,40,0.11,45,0.1],
  [0,0.33,1,0.22,6,0.16,15,0.13,28,0.11,42,0.09],
  [0,0.29,1,0.19,6,0.14,16,0.11,30,0.095,38,0.085],
  [0,0.25,1,0.16,5,0.12,18,0.095,32,0.08,40,0.075],
  [0,0.21,1,0.13,8,0.1,20,0.085,36,0.07],
  [0,0.17,2,0.1,10,0.08,26,0.065,40,0.06],
  [0,0.46,1,0.37,4,0.33,10,0.29,18,0.26,26,0.24],
  [0,0.39,2,0.29,8,0.25,16,0.23,24,0.21,32,0.2],
  [0,0.35,1,0.26,6,0.22,14,0.2,22,0.18,30,0.17],
  [0,0.31,1,0.23,6,0.19,14,0.16,24,0.14,34,0.13,40,0.12],
  [0,0.27,1,0.19,6,0.15,14,0.13,24,0.11,36,0.1],
  [0,0.23,1,0.15,8,0.12,18,0.1,28,0.09,40,0.085],
  [0,0.19,1,0.11,8,0.09,20,0.075,30,0.07],
  [0,0.13,2,0.075,12,0.06,28,0.055,42,0.05],
  [0,0.43,2,0.36,6,0.31,12,0.28,18,0.27,24,0.26],
  [0,0.34,1,0.25,5,0.21,10,0.19,16,0.27,17,0.18,25,0.16],
  [0,0.29,1,0.21,7,0.17,13,0.15,20,0.14,28,0.13,34,0.12],
  [0,0.26,1,0.18,4,0.15,12,0.13,20,0.11,27,0.1,33,0.14,35,0.095],
  [0,0.2,1,0.13,6,0.11,16,0.09,24,0.085,32,0.08],
  [0,0.41,1,0.3,3,0.26,7,0.24,12,0.22],
  [0,0.15,1,0.1,6,0.085,14,0.075,22,0.07],
  [0,0.32,1,0.23,5,0.19,11,0.17,18,0.15,25,0.14,29,0.13],
  [0,0.24,1,0.16,5,0.13,12,0.11,20,0.1,31,0.09,45,0.08],
  [0,0.1,2,0.06,10,0.05,24,0.045,36,0.04],
  [0,0.45,1,0.39,5,0.35,9,0.32,14,0.3,19,0.28],
  [0,0.37,1,0.27,4,0.24,8,0.22,15,0.2],
  [0,0.28,1,0.2,5,0.17,10,0.15,16,0.14,25,0.12,33,0.11],
  [0,0.5,2,0.42,5,0.38,9,0.35,13,0.33],
  [0,0.3,1,0.2,5,0.155,10,0.135,16,0.12,24,0.105,32,0.095],
  [0,0.26,1,0.18,4,0.145,9,0.125,18,0.105,27,0.095,36,0.09],
  [0,0.22,1,0.15,5,0.125,12,0.105,20,0.095,30,0.085,40,0.08],
  [0,0.35,1,0.22,6,0.175,12,0.155,20,0.135,28,0.125],
  [0,0.19,1,0.12,6,0.1,14,0.09,24,0.08,35,0.075],
  [0,0.28,1,0.19,7,0.155,15,0.135,23,0.12,31,0.11],
  [0,0.42,1,0.26,4,0.215,9,0.185,15,0.165,22,0.155],
  [0,0.17,1,0.11,5,0.095,13,0.085,21,0.075,29,0.07],
  [0,0.32,1,0.21,5,0.175,11,0.145,19,0.125,26,0.115,34,0.105],
  [0,0.24,1,0.16,5,0.135,10,0.12,17,0.105,25,0.095],
  [0,0.38,1,0.24,6,0.195,12,0.165,18,0.155],
  [0,0.2,1,0.14,7,0.115,14,0.1,22,0.09,32,0.085,38,0.08],
  [0,0.14,1,0.09,6,0.08,15,0.07,24,0.065],
  [0,0.29,1,0.18,4,0.155,8,0.135,13,0.125,19,0.115],
  [0,0.23,1,0.15,8,0.125,16,0.105,26,0.095,34,0.09],
  [0,0.45,1,0.3,5,0.245,11,0.205,17,0.185],
  [0,0.27,1,0.17,6,0.145,13,0.125,21,0.11,28,0.105],
  [0,0.16,1,0.1,9,0.085,18,0.075,30,0.07,39,0.065],
  [0,0.33,1,0.2,5,0.165,9,0.145,14,0.135],
  [0,0.21,1,0.13,5,0.115,11,0.1,19,0.095,27,0.09],
  [0,0.4,1,0.25,3,0.215,8,0.185,13,0.165,20,0.155],
  [0,0.25,1,0.17,7,0.135,15,0.115,23,0.105,30,0.1],
  [0,0.18,1,0.12,4,0.105,10,0.095,20,0.085],
  [0,0.31,1,0.2,6,0.165,13,0.135,22,0.125,29,0.115],
  [0,0.13,1,0.08,8,0.07,20,0.065,32,0.06],
  [0,0.36,1,0.23,4,0.195,10,0.165,16,0.145,24,0.135],
  [0,0.22,1,0.14,6,0.125,12,0.11,20,0.1,26,0.095],
  [0,0.48,1,0.3,3,0.265,7,0.225,11,0.205],
  [0,0.15,1,0.1,5,0.09,12,0.08,25,0.075,37,0.07],
  [0,0.26,1,0.16,8,0.125,16,0.115,24,0.105,33,0.1],
  [0,0.46,1,0.34,5,0.28,10,0.24,16,0.21,22,0.19],
  [0,0.39,1,0.31,6,0.25,12,0.22,20,0.19,28,0.17],
  [0,0.1,1,0.04,10,0.03,25,0.028]
];
var train_p2DH = [
  [0,0.35,1,0.07,5,0.05,15,0.045,30,0.04,40,0.035,50,0.025,63,0.015],
  [0,0.31,1,0.065,6,0.045,16,0.04,30,0.035,44,0.03],
  [0,0.28,1,0.06,8,0.05,20,0.045,35,0.04,45,0.035],
  [0,0.25,1,0.055,5,0.045,18,0.04,28,0.035,40,0.03],
  [0,0.22,1,0.06,6,0.05,12,0.045,24,0.04],
  [0,0.19,1,0.05,10,0.04,25,0.035,40,0.03,53,0.025],
  [0,0.16,1,0.045,8,0.035,22,0.03,36,0.028],
  [0,0.13,1,0.045,10,0.035,30,0.03],
  [0,0.1,1,0.04,12,0.03,26,0.025],
  [0,0.08,2,0.035,16,0.025,34,0.022],
  [0,0.33,1,0.08,4,0.06,10,0.055,22,0.05,32,0.045],
  [0,0.24,1,0.07,6,0.06,16,0.05,28,0.045,42,0.04],
  [0,0.2,1,0.065,5,0.055,14,0.05,20,0.045],
  [0,0.15,1,0.055,7,0.045,18,0.04,38,0.035],
  [0,0.27,1,0.07,3,0.06,10,0.05,30,0.04,46,0.035],
  [0,0.06,4,0.03,20,0.022,40,0.02],
  [0,0.18,1,0.045,10,0.04,26,0.035,41,0.035],
  [0,0.3,1,0.062,6,0.047,14,0.042,24,0.037,34,0.034],
  [0,0.26,1,0.066,5,0.052,12,0.047,22,0.042,31,0.037],
  [0,0.21,1,0.056,7,0.047,17,0.042,28,0.037,38,0.033],
  [0,0.17,1,0.05,8,0.042,19,0.037,33,0.033],
  [0,0.14,1,0.046,9,0.04,20,0.035,30,0.032],
  [0,0.33,1,0.076,4,0.062,11,0.052,21,0.047,29,0.043],
  [0,0.11,1,0.04,10,0.034,22,0.03,36,0.027],
  [0,0.24,1,0.06,6,0.052,13,0.047,25,0.042,40,0.037],
  [0,0.19,1,0.05,5,0.044,15,0.04,27,0.036],
  [0,0.09,1,0.035,10,0.03,24,0.026],
  [0,0.28,1,0.07,5,0.057,10,0.052,18,0.047,26,0.044],
  [0,0.15,1,0.048,7,0.042,16,0.038,31,0.034,42,0.032],
  [0,0.29,1,0.03,10,0.022,25,0.02,38,0.018],
  [0,0.2,1,0.028,15,0.02,30,0.018],
  [0,0.31,1,0.074,10,0.068,20,0.062,30,0.058],
  [0,0.25,1,0.07,8,0.065,18,0.06],
  [0,0.14,1,0.025,12,0.02,26,0.018]
];

var val_p2dH = [
  [0,1.14,4,1.13,7.5,1.125,14.5,1.108,24,1.09,33,1.068,42.6,1.045,52,1.016,59,0.99,66,0.958,69.5,0.94,73,0.945,78,0.86,85,0.826,92,0.81,99,0.786],
  [0,1.2,1,1.18,3,1.15,5,1.16,7,1.3],
  [0,1.3,2,1.2,5,1.3],
  [0,0.93,5,0.89,10,0.91,12,0.89],
  [0,0.826,7,0.85,14,0.84,19,0.83,26,0.815,33,0.81],
  [0,0.585,10,0.56,17,0.527,31,0.515,40,0.49,52,0.458,65,0.45],
  [0,0.5,15,0.46,24,0.45],
  [3,0.55,6,0.96,8,0.75],
  [13,0.73,14,0.56],
  [0,0.7,4,0.72,8,0.7,12,0.63,16,0.6],
  [0,0.45,10,0.38,26,0.32,40,0.3,52,0.29],
  [0,0.4,10,0.33,25,0.28,40,0.25,54,0.234],
  [0,0.3,15,0.22,38,0.18,55,0.18],
  [0,0.25,20,0.17,47,0.136,60,0.13,71,0.127],
  [0,0.44,1,0.33,4,0.26,10,0.22,20,0.18,30,0.15,40,0.12,50,0.1],
  [0,0.4,1,0.28,5,0.22,12,0.19,22,0.16,34,0.13],
  [0,0.36,1,0.24,5,0.18,14,0.15,26,0.12,40,0.1,48,0.09],
  [0,0.33,1,0.21,6,0.15,15,0.12,28,0.1,42,0.085],
  [0,0.29,1,0.18,6,0.13,16,0.1,30,0.085,38,0.08],
  [0,0.25,1,0.15,5,0.11,18,0.09,32,0.075,40,0.07],
  [0,0.21,1,0.12,8,0.09,20,0.075,36,0.065],
  [0,0.17,2,0.09,10,0.07,26,0.06,40,0.055],
  [0,0.46,1,0.36,4,0.32,10,0.28,18,0.25,26,0.23],
  [0,0.39,2,0.28,8,0.24,16,0.22,24,0.2,32,0.19],
  [0,0.35,1,0.25,6,0.21,14,0.19,22,0.17,30,0.16],
  [0,0.31,1,0.22,6,0.18,14,0.15,24,0.13,34,0.12,40,0.11],
  [0,0.27,1,0.18,6,0.14,14,0.12,24,0.1,36,0.09],
  [0,0.23,1,0.14,8,0.11,18,0.09,28,0.08,40,0.075],
  [0,0.19,1,0.1,8,0.08,20,0.07,30,0.065],
  [0,0.13,2,0.07,12,0.055,28,0.05,42,0.045],
  [0,0.43,2,0.35,6,0.3,12,0.27,18,0.26,24,0.25],
  [0,0.34,1,0.24,5,0.2,10,0.18,16,0.26,17,0.17,25,0.15],
  [0,0.29,1,0.2,7,0.16,13,0.14,20,0.13,28,0.12,34,0.11],
  [0,0.26,1,0.17,4,0.14,12,0.12,20,0.1,27,0.095,30,0.2,32,0.09],
  [0,0.2,1,0.12,6,0.1,16,0.085,24,0.08,32,0.075],
  [0,0.41,1,0.29,3,0.25,7,0.23,12,0.21],
  [0,0.15,1,0.09,6,0.075,14,0.065,22,0.06],
  [0,0.32,1,0.22,5,0.18,11,0.16,18,0.14,25,0.13,29,0.12],
  [0,0.24,1,0.15,5,0.12,12,0.1,20,0.09,31,0.08,45,0.075],
  [0,0.1,2,0.055,10,0.045,24,0.04,36,0.038],
  [0,0.45,1,0.38,5,0.34,9,0.31,14,0.29,19,0.27],
  [0,0.37,1,0.26,4,0.23,8,0.21,15,0.19],
  [0,0.28,1,0.19,5,0.16,10,0.14,16,0.13,25,0.11,33,0.1],
  [0,0.5,2,0.41,5,0.37,9,0.34,13,0.32],
  [0,0.29,1,0.19,5,0.145,10,0.125,16,0.11,24,0.095,32,0.085],
  [0,0.25,1,0.17,4,0.135,9,0.115,18,0.095,27,0.085,36,0.08],
  [0,0.21,1,0.14,5,0.115,12,0.095,20,0.085,30,0.075,40,0.07],
  [0,0.34,1,0.21,6,0.165,12,0.145,20,0.125,28,0.115],
  [0,0.18,1,0.11,6,0.095,14,0.08,24,0.07,35,0.065],
  [0,0.27,1,0.18,7,0.145,15,0.125,23,0.11,31,0.1],
  [0,0.41,1,0.25,4,0.2,9,0.17,15,0.15,22,0.14],
  [0,0.16,1,0.1,5,0.085,13,0.075,21,0.065,29,0.06],
  [0,0.31,1,0.2,5,0.165,11,0.135,19,0.115,26,0.105,34,0.095],
  [0,0.23,1,0.15,5,0.125,10,0.11,17,0.095,25,0.085],
  [0,0.37,1,0.23,6,0.18,12,0.15,18,0.14],
  [0,0.19,1,0.13,7,0.105,14,0.09,22,0.08,32,0.075,38,0.07],
  [0,0.13,1,0.085,6,0.07,15,0.06,24,0.055],
  [0,0.28,1,0.17,4,0.145,8,0.125,13,0.115,19,0.105],
  [0,0.22,1,0.14,8,0.115,16,0.095,26,0.085,34,0.08],
  [0,0.44,1,0.29,5,0.23,11,0.19,17,0.17],
  [0,0.26,1,0.16,6,0.135,13,0.115,21,0.1,28,0.095],
  [0,0.15,1,0.095,9,0.075,18,0.065,30,0.06,39,0.055],
  [0,0.32,1,0.19,5,0.155,9,0.135,14,0.125],
  [0,0.2,1,0.125,5,0.105,11,0.09,19,0.085,27,0.08],
  [0,0.39,1,0.24,3,0.2,8,0.17,13,0.15,20,0.14],
  [0,0.24,1,0.16,7,0.125,15,0.105,23,0.095,30,0.09],
  [0,0.17,1,0.115,4,0.095,10,0.085,20,0.075],
  [0,0.3,1,0.19,6,0.155,13,0.125,22,0.115,29,0.105],
  [0,0.12,1,0.075,8,0.06,20,0.055,32,0.05],
  [0,0.35,1,0.22,4,0.185,10,0.155,16,0.135,24,0.125],
  [0,0.21,1,0.135,6,0.115,12,0.1,20,0.09,26,0.085],
  [0,0.47,1,0.29,3,0.25,7,0.21,11,0.19],
  [0,0.14,1,0.095,5,0.08,12,0.07,25,0.065,37,0.06],
  [0,0.25,1,0.155,8,0.115,16,0.105,24,0.095,33,0.09],
  [0,0.44,1,0.32,5,0.26,10,0.22,16,0.19,22,0.17],
  [0,0.37,1,0.29,6,0.23,12,0.2,20,0.17,28,0.15],
  [0,0.09,1,0.038,10,0.03,25,0.028]
];
var train_p2dH = [
  [0,0.25,1,0.06,5,0.045,15,0.04,30,0.038,45,0.035,60,0.035,80,0.035,99,0.035],
  [0,0.23,1,0.06,6,0.045,16,0.04,30,0.035,44,0.03,56,0.03],
  [0,0.21,1,0.055,8,0.05,20,0.045,35,0.04,50,0.038],
  [0,0.19,1,0.05,5,0.045,18,0.04,28,0.035,40,0.03],
  [0,0.17,1,0.055,6,0.05,12,0.045,24,0.04],
  [0,0.15,1,0.045,10,0.04,25,0.035,40,0.03,53,0.03],
  [0,0.13,1,0.04,8,0.035,22,0.03,36,0.028],
  [0,0.11,1,0.04,10,0.035,30,0.03],
  [0,0.09,1,0.035,12,0.03,26,0.025],
  [0,0.07,2,0.03,16,0.025,34,0.022],
  [0,0.24,1,0.07,4,0.06,10,0.055,22,0.05,32,0.045],
  [0,0.2,1,0.065,6,0.055,16,0.05,28,0.045,42,0.04],
  [0,0.16,1,0.06,5,0.05,14,0.045,20,0.045],
  [0,0.12,1,0.05,7,0.045,18,0.04,38,0.035],
  [0,0.22,1,0.065,3,0.055,10,0.05,30,0.04,46,0.035,57,0.03],
  [0,0.05,4,0.028,20,0.022,40,0.02],
  [0,0.14,1,0.045,10,0.04,26,0.035,41,0.035],
  [0,0.22,1,0.058,6,0.046,14,0.042,24,0.037,34,0.034],
  [0,0.2,1,0.062,5,0.05,12,0.046,22,0.041,31,0.037],
  [0,0.18,1,0.054,7,0.046,17,0.041,28,0.037,38,0.033],
  [0,0.15,1,0.05,8,0.042,19,0.037,33,0.033],
  [0,0.13,1,0.046,9,0.039,20,0.034,30,0.031],
  [0,0.24,1,0.072,4,0.06,11,0.052,21,0.047,29,0.043],
  [0,0.1,1,0.04,10,0.033,22,0.029,36,0.026],
  [0,0.19,1,0.058,6,0.05,13,0.046,25,0.041,40,0.037],
  [0,0.16,1,0.05,5,0.043,15,0.039,27,0.035],
  [0,0.08,1,0.034,10,0.029,24,0.025],
  [0,0.21,1,0.066,5,0.055,10,0.05,18,0.046,26,0.043],
  [0,0.12,1,0.047,7,0.041,16,0.037,31,0.033,42,0.031],
  [0,0.2,1,0.03,10,0.022,25,0.02,38,0.018],
  [0,0.15,1,0.026,15,0.02,30,0.018],
  [0,0.23,1,0.072,10,0.066,20,0.06,30,0.056],
  [0,0.18,1,0.068,8,0.062,18,0.058],
  [0,0.11,1,0.024,12,0.02,26,0.018]
];

var valRuns = [val_c1dh, val_c1dH, val_c1Dh, val_c1DH, val_p2Dh, val_p2dh, val_p2DH, val_p2dH];
var trainRuns = [train_c1dh, train_c1dH, train_c1Dh, train_c1DH, train_p2Dh, train_p2dh, train_p2DH, train_p2dH];

function toPairs(run) {
    var out = [];
    for (var i = 0; i < run.length; i += 2) out.push([run[i], run[i + 1]]);
    return out;
}

var left0 = 152, colStep = 471.3, pw = 428.5, ph = 365;
var rowTops = [62, 548];

var svg = d3.select("body")
    .append("svg")
    .attr("width", w)
    .attr("height", h);

var yScale = d3.scaleLinear()
    .domain([-0.008, 1.25])
    .range([ph, 0]);

titles.forEach(function(title, i) {
    var col = i % 4, row = Math.floor(i / 4);
    var px = left0 + col * colStep, py = rowTops[row];
    var m = maxEpochs[i];

    var xScale = d3.scaleLinear()
        .domain([-0.05 * m, 1.05 * m])
        .range([0, pw]);

    var g = svg.append("g").attr("transform", "translate(" + px + "," + py + ")");

    g.append("clipPath").attr("id", "clip" + i)
        .append("rect").attr("width", pw).attr("height", ph);

    var line = d3.line()
        .x(function(d) { return xScale(d[0]); })
        .y(function(d) { return yScale(d[1]); });

    var plot = g.append("g").attr("clip-path", "url(#clip" + i + ")");

    plot.selectAll(".val")
        .data(valRuns[i].map(toPairs))
        .enter()
        .append("path")
        .attr("d", line)
        .attr("fill", "none")
        .attr("stroke", "#ff0000")
        .attr("stroke-opacity", 0.19)
        .attr("stroke-width", 4)
        .attr("stroke-linejoin", "round")
        .attr("stroke-linecap", "square");

    plot.selectAll(".train")
        .data(trainRuns[i].map(toPairs))
        .enter()
        .append("path")
        .attr("d", line)
        .attr("fill", "none")
        .attr("stroke", "#0000ff")
        .attr("stroke-opacity", 0.22)
        .attr("stroke-width", 4)
        .attr("stroke-linejoin", "round")
        .attr("stroke-linecap", "square");

    var xAxis = d3.axisBottom(xScale).tickValues(xTicks[i]).tickSize(9).tickPadding(8)
        .tickFormat(d3.format("d"));
    var gx = g.append("g").attr("transform", "translate(0," + ph + ")").call(xAxis);

    var yAxis = d3.axisLeft(yScale).tickValues(yTicks).tickSize(9).tickPadding(12)
        .tickFormat(col === 0 ? d3.format(".2f") : function() { return ""; });
    var gy = g.append("g").call(yAxis);

    [gx, gy].forEach(function(a) {
        a.select(".domain").remove();
        a.selectAll(".tick line").attr("stroke", "#000").attr("stroke-width", 2);
        a.selectAll(".tick text")
            .attr("font-size", 26)
            .attr("fill", "#000")
            .style("font-family", "DejaVu Sans");
    });
    gx.selectAll(".tick text").attr("dy", null).attr("y", 41);
    gy.selectAll(".tick text").attr("dy", null).attr("x", -22).attr("y", 9.5);

    g.append("rect")
        .attr("width", pw)
        .attr("height", ph)
        .attr("fill", "none")
        .attr("stroke", "#000")
        .attr("stroke-width", 2);

    g.append("text")
        .attr("x", pw / 2)
        .attr("y", -16)
        .attr("text-anchor", "middle")
        .attr("font-size", 31)
        .text(title);
});

// legend on the top right panel
var legend = svg.append("g");
legend.append("rect")
    .attr("x", 1790).attr("y", 74)
    .attr("width", 237).attr("height", 93)
    .attr("rx", 6)
    .attr("fill", "#fff").attr("fill-opacity", 0.8)
    .attr("stroke", "#cccccc").attr("stroke-width", 2);
var legendItems = [["Train Loss", "#0000ff"], ["Val Loss", "#ff0000"]];
legendItems.forEach(function(d, k) {
    legend.append("rect")
        .attr("x", 1800).attr("y", 87 + k * 41)
        .attr("width", 58).attr("height", 22)
        .attr("fill", d[1]);
    legend.append("text")
        .attr("x", 1879).attr("y", 107 + k * 41)
        .attr("font-size", 26)
        .text(d[0]);
});

svg.append("text")
    .attr("text-anchor", "middle")
    .attr("x", 1040)
    .attr("y", 1009)
    .attr("font-size", 26)
    .text("Epochs");

svg.append("text")
    .attr("text-anchor", "middle")
    .attr("transform", "translate(43,491) rotate(-90)")
    .attr("font-size", 26)
    .text("Loss");
</script>
</body>
</html>
